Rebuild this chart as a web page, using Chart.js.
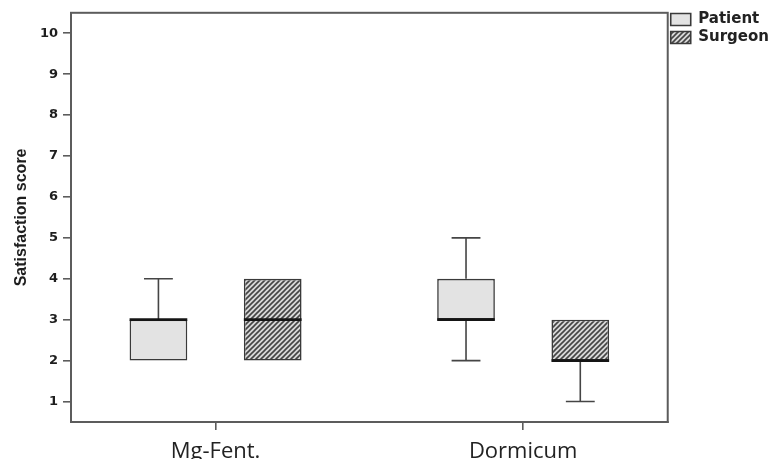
<!DOCTYPE html>
<html>
<head>
<meta charset="utf-8">
<script src="https://cdn.jsdelivr.net/npm/chart.js@4/dist/chart.umd.min.js"></script>
<style>
  html, body { margin: 0; padding: 0; background: #fff; overflow: hidden; }
  #wrap { width: 779px; height: 468px; }
</style>
</head>
<body>
<div id="wrap"><canvas id="c" width="779" height="468"></canvas></div>
<script>
const categories = ['Mg-Fent.', 'Dormicum'];
const seriesNames = ['Patient', 'Surgeon'];
const patientMin = [2, 2];
const patientQ1 = [2, 3];
const patientMedian = [3, 3];
const patientQ3 = [3, 4];
const patientMax = [4, 5];
const surgeonMin = [2, 1];
const surgeonQ1 = [2, 2];
const surgeonMedian = [3, 2];
const surgeonQ3 = [4, 3];
const surgeonMax = [4, 3];
const yTicks = [1, 2, 3, 4, 5, 6, 7, 8, 9, 10];

function makeHatch() {
  const s = 5;
  const c = document.createElement('canvas');
  c.width = s; c.height = s;
  const g = c.getContext('2d');
  g.fillStyle = '#d8d8d8';
  g.fillRect(0, 0, s, s);
  g.strokeStyle = '#444';
  g.lineWidth = 1.6;
  g.beginPath();
  g.moveTo(-1, s + 1); g.lineTo(s + 1, -1);
  g.moveTo(-1, 1); g.lineTo(1, -1);
  g.moveTo(s - 1, s + 1); g.lineTo(s + 1, s - 1);
  g.stroke();
  return g.createPattern(c, 'repeat');
}
const hatch = makeHatch();

const stats = [
  { min: patientMin, q1: patientQ1, med: patientMedian, q3: patientQ3, max: patientMax },
  { min: surgeonMin, q1: surgeonQ1, med: surgeonMedian, q3: surgeonQ3, max: surgeonMax }
];

function boxData(s) {
  return categories.map((c, i) => ({ x: i, y: [s.q1[i], s.q3[i]] }));
}

const frameColor = '#5c5c5c';

const boxPlugin = {
  id: 'boxExtras',
  afterDatasetsDraw(chart) {
    const ctx = chart.ctx;
    const ys = chart.scales.y;
    stats.forEach((s, di) => {
      const meta = chart.getDatasetMeta(di);
      meta.data.forEach((bar, i) => {
        const x = bar.x;
        const w = bar.width;
        const yMin = ys.getPixelForValue(s.min[i]);
        const yQ1 = ys.getPixelForValue(s.q1[i]);
        const yQ3 = ys.getPixelForValue(s.q3[i]);
        const yMax = ys.getPixelForValue(s.max[i]);
        const yMed = ys.getPixelForValue(s.med[i]);
        ctx.save();
        ctx.strokeStyle = '#454545';
        ctx.lineWidth = 1.6;
        ctx.beginPath();
        if (s.max[i] > s.q3[i]) {
          ctx.moveTo(x, yQ3); ctx.lineTo(x, yMax);
          ctx.moveTo(x - w / 4, yMax); ctx.lineTo(x + w / 4, yMax);
        }
        if (s.min[i] < s.q1[i]) {
          ctx.moveTo(x, yQ1); ctx.lineTo(x, yMin);
          ctx.moveTo(x - w / 4, yMin); ctx.lineTo(x + w / 4, yMin);
        }
        ctx.stroke();
        ctx.strokeStyle = '#151515';
        ctx.lineWidth = 2.8;
        ctx.beginPath();
        ctx.moveTo(x - w / 2, yMed); ctx.lineTo(x + w / 2, yMed);
        ctx.stroke();
        ctx.restore();
      });
    });
  },
  afterDraw(chart) {
    const a = chart.chartArea;
    const ctx = chart.ctx;
    ctx.save();
    ctx.strokeStyle = frameColor;
    ctx.lineWidth = 2;
    ctx.strokeRect(a.left, a.top, a.right - a.left, a.bottom - a.top);
    ctx.restore();
  }
};

new Chart(document.getElementById('c'), {
  type: 'bar',
  data: {
    datasets: [
      {
        label: seriesNames[0],
        data: boxData(stats[0]),
        backgroundColor: '#e3e3e3',
        borderColor: '#3a3a3a',
        borderWidth: 1.6,
        borderSkipped: false
      },
      {
        label: seriesNames[1],
        data: boxData(stats[1]),
        backgroundColor: hatch,
        borderColor: '#3a3a3a',
        borderWidth: 1.6,
        borderSkipped: false
      }
    ]
  },
  options: {
    responsive: false,
    animation: false,
    categoryPercentage: 0.743,
    barPercentage: 0.505,
    layout: { padding: { top: 9, left: 0, right: 0, bottom: 0 } },
    plugins: {
      legend: {
        position: 'right',
        align: 'start',
        labels: {
          boxWidth: 20,
          boxHeight: 12,
          padding: 3,
          color: '#222',
          font: { family: 'DejaVu Sans', weight: 'bold', size: 15, lineHeight: 1.0 }
        }
      },
      tooltip: { enabled: false }
    },
    scales: {
      x: {
        type: 'linear',
        min: -0.47,
        max: 1.47,
        offset: false,
        afterBuildTicks: (scale) => { scale.ticks = categories.map((c, i) => ({ value: i })); },
        afterFit: (scale) => { scale.height = 46; },
        ticks: {
          callback: (v) => categories[v],
          color: '#222',
          padding: 9,
          font: { family: 'Open Sans', size: 22 },
          maxRotation: 0,
          autoSkip: false
        },
        grid: { offset: false, drawOnChartArea: false, drawTicks: true, tickLength: 8, color: frameColor, lineWidth: 1.6 },
        border: { display: true, color: frameColor, width: 2 }
      },
      xTop: {
        type: 'linear',
        position: 'top',
        display: true,
        afterFit: (scale) => { scale.height = 2; },
        ticks: { display: false },
        grid: { display: false },
        border: { display: false }
      },
      y: {
        type: 'linear',
        min: 0.5,
        max: 10.5,
        afterBuildTicks: (scale) => { scale.ticks = yTicks.map(v => ({ value: v })); },
        afterFit: (scale) => { scale.width = 71; },
        ticks: {
          color: '#1e1e1e',
          padding: 5,
          font: { family: 'DejaVu Sans', weight: 'bold', size: 13 }
        },
        title: {
          display: true,
          text: 'Satisfaction score',
          color: '#1e1e1e',
          padding: { top: 12, bottom: 0 },
          font: { family: 'Liberation Sans', weight: 'bold', size: 16 }
        },
        grid: { drawOnChartArea: false, drawTicks: true, tickLength: 8, color: frameColor, lineWidth: 1.6 },
        border: { display: true, color: frameColor, width: 2 }
      }
    }
  },
  plugins: [boxPlugin]
});
</script>
</body>
</html>
